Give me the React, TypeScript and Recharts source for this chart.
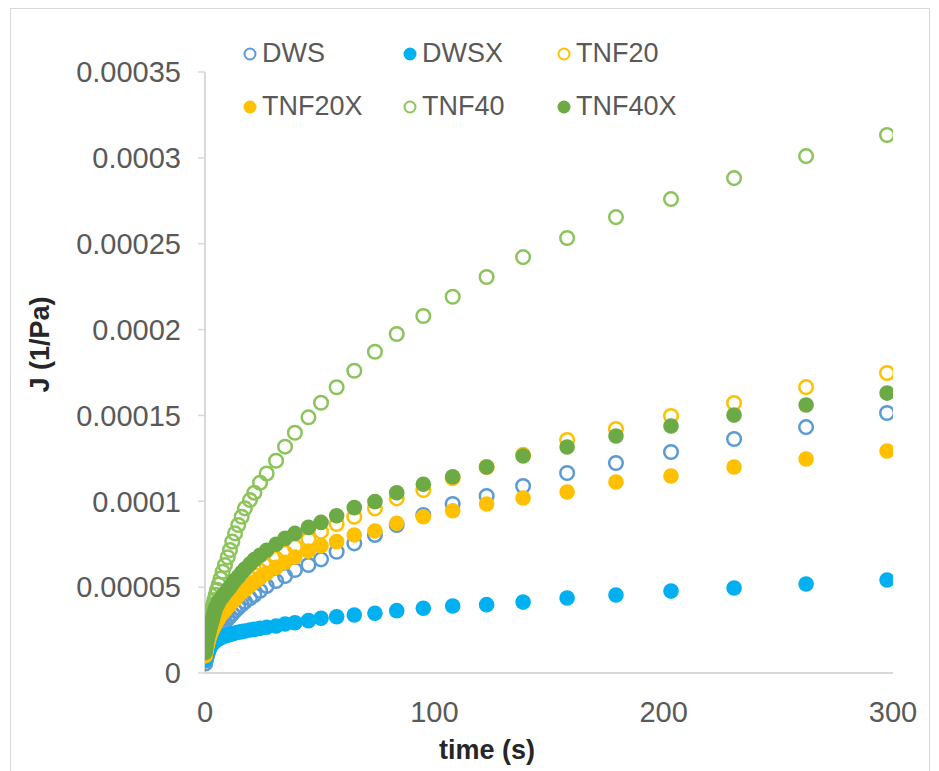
import React from 'react';
import { ScatterChart, Scatter, XAxis, YAxis, Legend } from 'recharts';

// time points (s), shared by every sample
const TIME_S = [
  0.1, 0.3, 0.5, 0.7, 0.9, 1.1, 1.3, 1.5, 1.7, 1.9,
  2.2, 2.5, 2.8, 3.2, 3.6, 4.1, 4.7, 5.3, 6.0, 6.8,
  7.7, 8.7, 9.9, 10.9, 11.9, 13.1, 14.5, 16.0, 17.4, 19.6,
  21.5, 24.0, 26.9, 31.0, 34.9, 39.2, 45.1, 50.6, 57.4, 65.1,
  74.1, 83.6, 95.2, 108, 122.8, 138.7, 157.9, 179.2, 203.2, 230.7,
  262.1, 297.4,
];

// compliance J, in units of 1e-5 1/Pa
const DWS = [
  0.55, 0.72, 0.85, 0.95, 1.05, 1.14, 1.22, 1.3, 1.38, 1.45,
  1.55, 1.65, 1.75, 1.85, 1.95, 2.07, 2.2, 2.33, 2.47, 2.62,
  2.78, 2.95, 3.15, 3.3, 3.45, 3.62, 3.8, 3.98, 4.15, 4.35,
  4.54, 4.79, 5.07, 5.36, 5.65, 6.0, 6.29, 6.62, 7.06, 7.55,
  8.04, 8.62, 9.2, 9.84, 10.31, 10.89, 11.65, 12.23, 12.87, 13.63,
  14.32, 15.14,
];
const DWSX = [
  0.8, 0.96, 1.06, 1.14, 1.21, 1.27, 1.33, 1.38, 1.43, 1.48,
  1.54, 1.6, 1.65, 1.71, 1.77, 1.83, 1.89, 1.95, 2.0, 2.06,
  2.11, 2.16, 2.21, 2.25, 2.29, 2.33, 2.37, 2.41, 2.45, 2.5,
  2.54, 2.6, 2.66, 2.74, 2.85, 2.93, 3.05, 3.19, 3.28, 3.38,
  3.48, 3.63, 3.77, 3.9, 3.98, 4.13, 4.37, 4.54, 4.77, 4.95,
  5.18, 5.42,
];
const TNF20 = [
  1.1, 1.3, 1.45, 1.6, 1.75, 1.85, 1.95, 2.05, 2.15, 2.25,
  2.35, 2.5, 2.6, 2.7, 2.85, 3.0, 3.15, 3.3, 3.45, 3.6,
  3.75, 3.95, 4.15, 4.3, 4.45, 4.65, 4.85, 5.05, 5.25, 5.5,
  5.7, 5.95, 6.25, 6.65, 7.0, 7.35, 7.8, 8.23, 8.68, 9.1,
  9.59, 10.17, 10.66, 11.35, 12.0, 12.7, 13.57, 14.21, 14.97, 15.72,
  16.65, 17.47,
];
const TNF20X = [
  1.0, 1.2, 1.35, 1.5, 1.6, 1.7, 1.8, 1.9, 2.0, 2.1,
  2.2, 2.3, 2.4, 2.5, 2.6, 2.75, 2.9, 3.05, 3.2, 3.35,
  3.5, 3.65, 3.85, 4.0, 4.15, 4.3, 4.5, 4.7, 4.85, 5.1,
  5.3, 5.55, 5.8, 6.15, 6.45, 6.75, 7.1, 7.41, 7.65, 8.04,
  8.27, 8.72, 9.1, 9.45, 9.84, 10.19, 10.54, 11.12, 11.47, 12.0,
  12.46, 12.93,
];
const TNF40 = [
  1.5, 1.8, 2.05, 2.25, 2.4, 2.55, 2.7, 2.85, 2.95, 3.05,
  3.25, 3.45, 3.6, 3.8, 4.0, 4.25, 4.55, 4.85, 5.15, 5.5,
  5.9, 6.29, 6.74, 7.16, 7.65, 8.13, 8.62, 9.1, 9.59, 10.07,
  10.5, 11.08, 11.62, 12.36, 13.18, 13.99, 14.89, 15.74, 16.64, 17.6,
  18.71, 19.74, 20.79, 21.91, 23.06, 24.22, 25.33, 26.55, 27.6, 28.82,
  30.1, 31.33,
];
const TNF40X = [
  1.2, 1.45, 1.65, 1.8, 1.95, 2.05, 2.2, 2.3, 2.4, 2.5,
  2.65, 2.8, 2.95, 3.1, 3.3, 3.55, 3.8, 3.95, 4.15, 4.3,
  4.45, 4.65, 4.85, 5.0, 5.2, 5.4, 5.6, 5.85, 6.05, 6.35,
  6.6, 6.85, 7.15, 7.5, 7.84, 8.13, 8.48, 8.77, 9.16, 9.63,
  9.98, 10.5, 10.99, 11.43, 12.0, 12.64, 13.16, 13.8, 14.38, 15.02,
  15.61, 16.3,
];

const X_TICKS = [0, 100, 200, 300];
const Y_TICKS = [0, 0.00005, 0.0001, 0.00015, 0.0002, 0.00025, 0.0003, 0.00035];
const Y_TICK_LABELS = ['0', '0.00005', '0.0001', '0.00015', '0.0002', '0.00025', '0.0003', '0.00035'];

const SERIES_NAMES = ['DWS', 'DWSX', 'TNF20', 'TNF20X', 'TNF40', 'TNF40X'];
const SERIES_VALUES = [DWS, DWSX, TNF20, TNF20X, TNF40, TNF40X];
const SERIES_COLORS = ['#5B9BD5', '#00B0F0', '#FFC000', '#FFC000', '#8CC45C', '#6BAA45'];
const SERIES_FILLED = [false, true, false, true, false, true];

const FONT = '"Liberation Sans", Arial, sans-serif';

const toPoints = (vals: number[]) => TIME_S.map((t, i) => ({ t, j: vals[i] * 1e-5 }));

const makeShape = (color: string, filled: boolean) => (props: any) => {
  const { cx, cy } = props;
  if (cx == null || cy == null) return <g />;
  return filled ? (
    <circle cx={cx} cy={cy} r={7.8} fill={color} />
  ) : (
    <circle cx={cx} cy={cy} r={6.8} fill="none" stroke={color} strokeWidth={2.5} />
  );
};

const LegendContent = () => (
  <div
    style={{
      display: 'grid',
      gridTemplateColumns: '160px 154px 170px',
      gridAutoRows: '53px',
      fontFamily: FONT,
      fontSize: 27,
      color: '#595959',
    }}
  >
    {SERIES_NAMES.map((name, i) => (
      <div key={name} style={{ display: 'flex', alignItems: 'center', whiteSpace: 'nowrap' }}>
        <svg width={14} height={14} style={{ flex: 'none' }}>
          {SERIES_FILLED[i] ? (
            <circle cx={7} cy={7} r={6.5} fill={SERIES_COLORS[i]} />
          ) : (
            <circle cx={7} cy={7} r={5.5} fill="none" stroke={SERIES_COLORS[i]} strokeWidth={2} />
          )}
        </svg>
        <span style={{ marginLeft: 5 }}>{name}</span>
      </div>
    ))}
  </div>
);

const YTitle = (props: any) => {
  const vb = props.viewBox || {};
  const x = vb.x - 65;
  const y = vb.y + vb.height / 2 - 28;
  return (
    <text
      x={x}
      y={y}
      transform={`rotate(-90 ${x} ${y})`}
      textAnchor="middle"
      dominantBaseline="central"
      fontFamily={FONT}
      fontSize={27}
      fontWeight="bold"
      fill="#262626"
    >
      J (1/Pa)
    </text>
  );
};

const XTitle = (props: any) => {
  const vb = props.viewBox || {};
  const x = vb.x + vb.width / 2 - 62;
  const y = vb.y + 77;
  return (
    <text
      x={x}
      y={y}
      textAnchor="middle"
      dominantBaseline="central"
      fontFamily={FONT}
      fontSize={27}
      fontWeight="bold"
      fill="#262626"
    >
      time (s)
    </text>
  );
};

export default function App() {
  return (
    <div style={{ position: 'absolute', left: 0, top: 0, width: 939, height: 771, background: '#fff', overflow: 'hidden' }}>
      <div
        style={{
          position: 'absolute',
          left: 10,
          top: 8,
          width: 920,
          height: 780,
          border: '1px solid #D9D9D9',
          boxSizing: 'border-box',
        }}
      />
      <div style={{ position: 'absolute', left: 0, top: 0 }}>
        <ScatterChart width={939} height={771} margin={{ top: 72, right: 46, bottom: 38, left: 105 }}>
          <XAxis
            type="number"
            dataKey="t"
            domain={[0, 300]}
            ticks={X_TICKS}
            allowDataOverflow
            height={60}
            tickLine={false}
            tickSize={0}
            tickMargin={28}
            axisLine={{ stroke: '#D9D9D9', strokeWidth: 2 }}
            tick={{ fontFamily: FONT, fontSize: 29, fill: '#595959' }}
            label={<XTitle />}
          />
          <YAxis
            type="number"
            dataKey="j"
            domain={[0, 0.00035]}
            ticks={Y_TICKS}
            allowDataOverflow
            width={100}
            tickSize={7}
            tickMargin={17}
            tickLine={{ stroke: '#D9D9D9', strokeWidth: 1.5 }}
            axisLine={{ stroke: '#D9D9D9', strokeWidth: 2 }}
            tick={{ fontFamily: FONT, fontSize: 29, fill: '#595959' }}
            tickFormatter={(v: number) => {
              const k = Y_TICKS.indexOf(v);
              return k >= 0 ? Y_TICK_LABELS[k] : String(v);
            }}
            label={<YTitle />}
          />
          <Legend
            layout="horizontal"
            verticalAlign="middle"
            align="center"
            content={<LegendContent />}
            wrapperStyle={{ left: 243, top: 27, width: 500, height: 106 }}
          />
          {SERIES_NAMES.map((name, i) => (
            <Scatter
              key={name}
              name={name}
              data={toPoints(SERIES_VALUES[i])}
              fill={SERIES_COLORS[i]}
              shape={makeShape(SERIES_COLORS[i], SERIES_FILLED[i])}
              isAnimationActive={false}
            />
          ))}
        </ScatterChart>
      </div>
    </div>
  );
}
